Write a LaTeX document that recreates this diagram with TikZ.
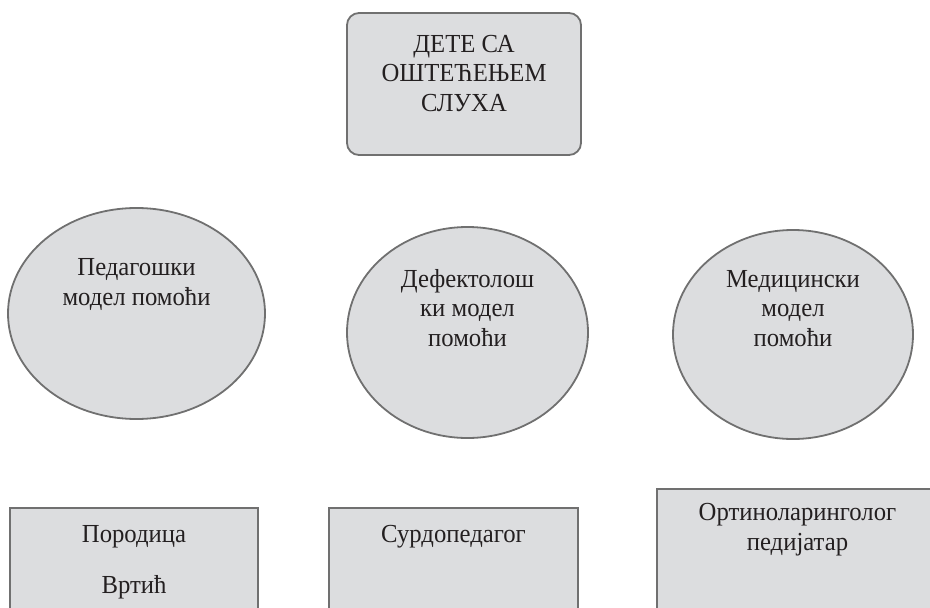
\documentclass[tikz,border=0pt]{standalone}
\usepackage{fontspec}
\setmainfont[FakeStretch=0.95]{Liberation Serif}
\usetikzlibrary{shapes.geometric}
\definecolor{boxfill}{HTML}{DCDDDF}
\definecolor{boxline}{HTML}{707070}
\definecolor{txt}{HTML}{231F20}
\begin{document}
\begin{tikzpicture}[x=1pt,y=-1pt,
  shapebox/.style={draw=boxline, line width=1.8pt, fill=boxfill, inner sep=0pt},
  rectbox/.style={shapebox, rectangle},
  ovalbox/.style={shapebox, ellipse},
  lbl/.style={font=\fontsize{26}{29.5}\selectfont, text=txt, align=center, inner sep=0pt, anchor=base}]
\useasboundingbox (0,0) rectangle (930,608);
\clip (0,0) rectangle (930,608);
% shapes
\node[rectbox, rounded corners=12pt, minimum width=234pt, minimum height=142pt] (child) at (464,84) {};
\node[ovalbox, minimum width=257pt, minimum height=211pt] (ped) at (136.5,313.5) {};
\node[ovalbox, minimum width=241pt, minimum height=211pt] (def) at (467.5,332.5) {};
\node[ovalbox, minimum width=240pt, minimum height=209pt] (med) at (793,334.5) {};
\node[rectbox, minimum width=248pt, minimum height=132pt] (fam) at (134,574) {};
\node[rectbox, minimum width=249pt, minimum height=132pt] (surd) at (453.5,574) {};
\node[rectbox, minimum width=281pt, minimum height=151pt] (orl) at (797.5,564.5) {};
% labels (base anchor = baseline of the last line)
\node[lbl] (childT) at (464,111) {ДЕТЕ СА\\ОШТЕЋЕЊЕМ\\СЛУХА};
\node[lbl] (pedT) at (136.5,305) {Педагошки\\модел помоћи};
\node[lbl] (defT) at (467.5,346) {Дефектолош\\ки модел\\помоћи};
\node[lbl] (medT) at (793,346) {Медицински\\модел\\помоћи};
\node[lbl] (famT) at (134,593) {Породица\\[21.5pt]Вртић};
\node[lbl] (surdT) at (453.5,542) {Сурдопедагог};
\node[lbl] (orlT) at (797.5,550) {Ортиноларинголог\\педијатар};
\end{tikzpicture}
\end{document}
